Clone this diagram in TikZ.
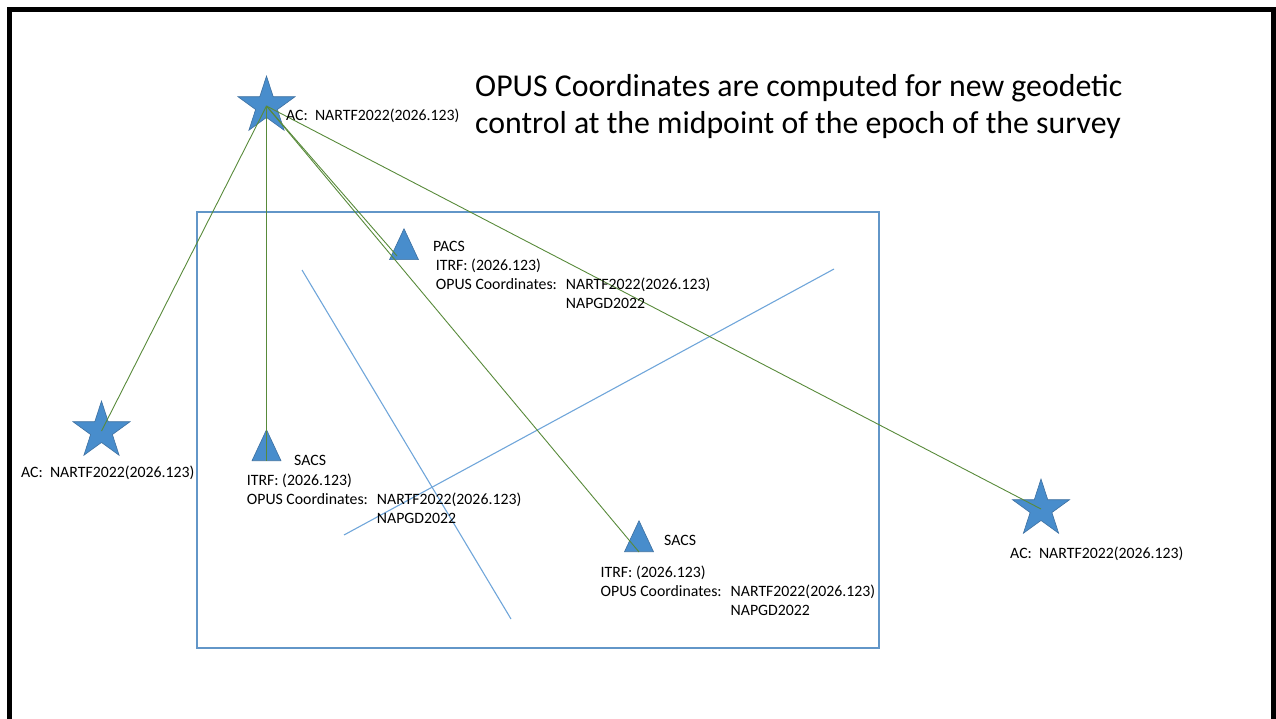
\documentclass[tikz,border=0pt]{standalone}
\usepackage{fontspec}
\setmainfont{Carlito}
\usetikzlibrary{shapes.geometric}

\definecolor{markblue}{RGB}{72,141,204}
\definecolor{markedge}{RGB}{62,112,160}
\definecolor{linkgreen}{RGB}{88,138,58}
\definecolor{areablue}{RGB}{98,150,200}
\definecolor{trackblue}{RGB}{112,166,218}
\newcommand{\lblfont}{\fontsize{15.8}{19}\selectfont}
\newcommand{\headfont}{\fontsize{31.8}{36.7}\selectfont}

\begin{document}
\begin{tikzpicture}[x=1pt, y=-1pt,
    acstar/.style={star, star points=5, star point ratio=2.618, minimum size=60pt,
      inner sep=0pt, fill=markblue, draw=markedge, line width=0.6pt},
    stn/.style={isosceles triangle, isosceles triangle stretches, shape border rotate=90,
      minimum width=29pt, minimum height=31pt, inner sep=0pt, anchor=south,
      fill=markblue, draw=markedge, line width=0.6pt},
    txt/.style={font=\lblfont, inner sep=0pt, anchor=base west},
    link/.style={linkgreen, line width=0.9pt}]

  \useasboundingbox (0,0) rectangle (1276,719);
  \draw[line width=5pt] (9.5,719) -- (9.5,9.5) -- (1273.5,9.5) -- (1273.5,719);

  % survey area and traverses
  \draw[areablue, line width=1.2pt] (197,212) rectangle (879,648);
  \draw[trackblue, line width=1.1pt] (302,270) -- (511,619);
  \draw[trackblue, line width=1.1pt] (344,535) -- (834,269);

  % control marks
  \node[acstar] (ac1) at (266.5,106) {};
  \node[acstar] (ac2) at (101.5,431) {};
  \node[acstar] (ac3) at (1041,509) {};
  \node[stn] (pacs) at (404,260) {};
  \node[stn] (sacs1) at (266.5,461) {};
  \node[stn] (sacs2) at (639,552) {};
  \coordinate (pacsend) at ([xshift=-7pt,yshift=4pt]pacs.south);

  \foreach \t in {ac2.center, sacs1.south, pacsend, sacs2.south, ac3.center}
    \draw[link] (ac1.center) -- (\t);

  % labels
  \node[txt] (ac1lbl) at (286,120.5) {AC:~~NARTF2022(2026.123)};
  \node[txt] (ac2lbl) at (21,477) {AC:~~NARTF2022(2026.123)};
  \node[txt] (ac3lbl) at (1010,558) {AC:~~NARTF2022(2026.123)};

  \node[txt] (pacslbl) at (433,251.7) {PACS};
  \node[txt] (pacsinfo) at (435.7,270) {\begin{tabular}[t]{@{}l@{\hspace{9pt}}l@{}}
    ITRF: (2026.123)\\
    OPUS Coordinates:&NARTF2022(2026.123)\\
    &NAPGD2022\end{tabular}};

  \node[txt] (sacs1lbl) at (294,465) {SACS};
  \node[txt] (sacs1info) at (246.7,485) {\begin{tabular}[t]{@{}l@{\hspace{9pt}}l@{}}
    ITRF: (2026.123)\\
    OPUS Coordinates:&NARTF2022(2026.123)\\
    &NAPGD2022\end{tabular}};

  \node[txt] (sacs2lbl) at (664,545) {SACS};
  \node[txt] (sacs2info) at (600.5,577.7) {\begin{tabular}[t]{@{}l@{\hspace{9pt}}l@{}}
    ITRF: (2026.123)\\
    OPUS Coordinates:&NARTF2022(2026.123)\\
    &NAPGD2022\end{tabular}};

  \node[font=\headfont, inner sep=0pt, anchor=base west] (title) at (475,96.7)
    {\begin{tabular}[t]{@{}l@{}}
    OPUS Coordinates are computed for new geodetic\\
    control at the midpoint of the epoch of the survey\end{tabular}};
\end{tikzpicture}
\end{document}
